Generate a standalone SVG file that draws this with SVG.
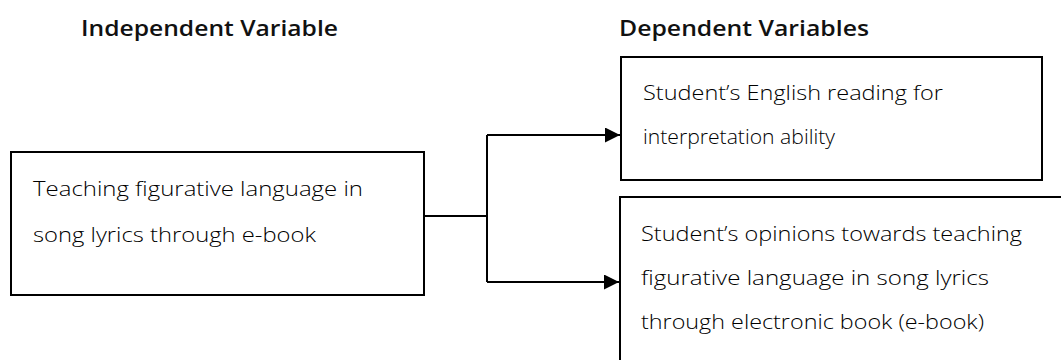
<svg xmlns="http://www.w3.org/2000/svg" width="1061" height="360" viewBox="0 0 1061 360">
  <style>
    .box { fill: #ffffff; stroke: #000000; stroke-width: 2; }
    .wire { fill: none; stroke: #000000; stroke-width: 2; }
    .head { font-family: "Open Sans", "Liberation Sans", sans-serif; font-size: 21px; font-weight: 600; fill: #111111; }
    .body { font-family: "Open Sans", "Liberation Sans", sans-serif; font-size: 21px; font-weight: 300; fill: #000000; }
  </style>
  <defs>
    <marker id="arrow" viewBox="0 0 15 15" refX="15" refY="7.5" markerWidth="15" markerHeight="15" markerUnits="userSpaceOnUse" orient="auto">
      <path d="M0,0 L15,7.5 L0,15 Z" fill="#000000"/>
    </marker>
  </defs>
  <rect width="1061" height="360" fill="#ffffff"/>

  <!-- column headings -->
  <text class="head" x="81" y="35.5" textLength="257" lengthAdjust="spacingAndGlyphs">Independent Variable</text>
  <text class="head" x="619" y="35.5" textLength="250" lengthAdjust="spacingAndGlyphs">Dependent Variables</text>

  <!-- connectors: split from the independent variable to both outcomes -->
  <g id="connectors">
    <path class="wire" d="M424,216 H487"/>
    <path class="wire" d="M487,135 V282"/>
    <path class="wire" d="M487,135 H620" marker-end="url(#arrow)"/>
    <path class="wire" d="M487,282 H619" marker-end="url(#arrow)"/>
  </g>

  <g id="independent">
    <rect class="box" x="11" y="152" width="413" height="143"/>
    <text class="body" x="33" y="196" textLength="330" lengthAdjust="spacingAndGlyphs">Teaching figurative language in</text>
    <text class="body" x="33" y="242" textLength="283" lengthAdjust="spacingAndGlyphs">song lyrics through e-book</text>
  </g>

  <g id="reading">
    <rect class="box" x="621" y="57" width="421" height="123"/>
    <text class="body" x="643" y="99.5" textLength="300" lengthAdjust="spacingAndGlyphs">Student’s English reading for</text>
    <text class="body" x="643" y="144" textLength="192" lengthAdjust="spacingAndGlyphs">interpretation ability</text>
  </g>

  <g id="opinions">
    <rect class="box" x="620" y="197" width="450" height="180"/>
    <text class="body" x="641" y="241" textLength="381" lengthAdjust="spacingAndGlyphs">Student’s opinions towards teaching</text>
    <text class="body" x="641" y="285" textLength="348" lengthAdjust="spacingAndGlyphs">figurative language in song lyrics</text>
    <text class="body" x="641" y="329" textLength="343" lengthAdjust="spacingAndGlyphs">through electronic book (e-book)</text>
  </g>
</svg>
